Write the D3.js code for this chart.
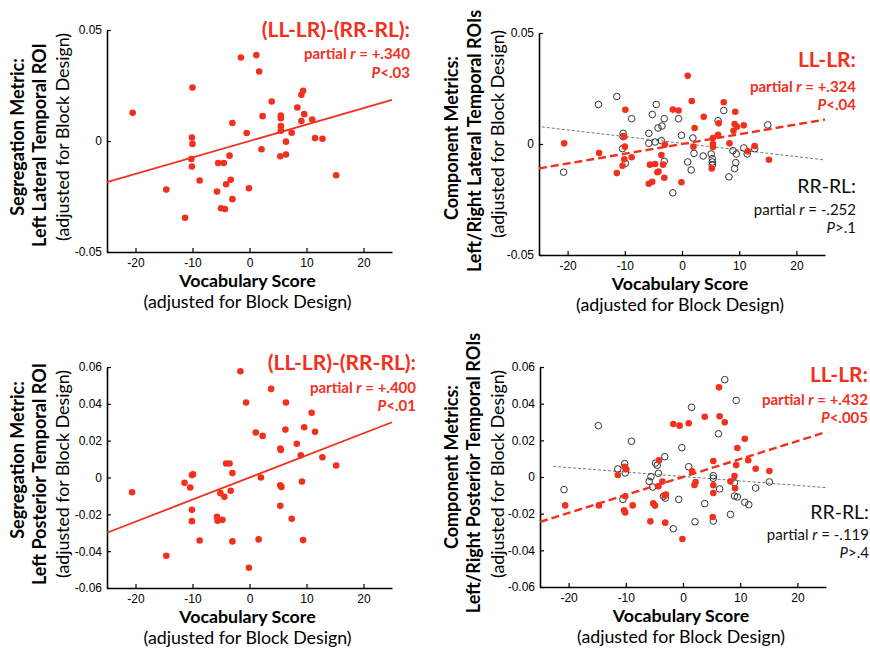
<!DOCTYPE html>
<html>
<head>
<meta charset="utf-8">
<script src="https://cdn.jsdelivr.net/npm/d3@7"></script>
<style>
  body { margin: 0; background: #fff; }
  svg { display: block; }
  .lbl { font-family: Lato, "Open Sans", sans-serif; }
  .tick text { font-family: "Liberation Sans", Arial, sans-serif; fill: #000; }
</style>
</head>
<body>
<svg id="chart" width="870" height="650"></svg>
<script>
// ---- data ----
let vocabTicks = [-20, -10, 0, 10, 20];
let latTicks = [-0.05, 0, 0.05];
let postTicks = [-0.06, -0.04, -0.02, 0, 0.02, 0.04, 0.06];
let fitX = [-25, 25];

// top left: segregation, lateral
let p1X = [-20.5,-14.6,-11.3,-10.0,-10.1,-10.0,-10.2,-10.1,-8.75,-5.7,-5.5,-4.5,-5.0,-4.3,-4.1,-3.3,-3.5,-3.0,-3.0,-0.5,-0.1,-1.5,1.2,1.7,2.3,2.1,3.9,5.5,5.5,5.5,5.5,5.4,6.4,6.4,7.4,8.4,9.1,9.4,9.6,9.1,11.0,11.5,12.8,15.2];
let p1Y = [0.0127,-0.0219,-0.0346,0.0241,0.0016,-0.0013,-0.0081,-0.0115,-0.0178,-0.0228,-0.0099,-0.0099,-0.0303,-0.0306,-0.0195,-0.0175,-0.0066,-0.0262,0.0081,0.0036,-0.0213,0.0376,0.0387,0.0313,0.0112,-0.0037,0.0178,0.0115,0.0103,0.0067,0.0046,-0.0069,-0.0003,-0.0061,0.0037,0.0151,0.0208,0.0226,0.0121,0.009,0.0097,0.0013,0.0010,-0.0154];
let p1Fit = [-0.0185, 0.0185];

// top right: components, lateral
let p2RedX = [-20.6,-14.5,-9.9,-10.1,-10.0,-10.1,-10.4,-11.4,-8.8,-5.8,-5.2,-5.6,-4.7,-4.3,-4.1,-3.6,-3.3,-3.1,-3.0,-1.6,-0.6,-0.1,1.0,1.7,2.2,2.0,3.8,5.4,5.4,5.4,5.2,6.4,6.3,7.3,8.3,9.3,9.2,9.6,9.0,10.8,11.5,12.7,15.2];
let p2RedY = [0.0003,-0.0041,0.0154,0.0033,-0.0012,-0.0069,-0.0098,-0.0131,-0.006,-0.0179,-0.017,-0.0093,-0.009,-0.0127,-0.0124,-0.005,-0.0093,-0.0152,-0.0003,0.0155,0.0151,-0.0172,0.0307,0.0194,0.0072,-0.0012,0.0123,0.0027,0.0,-0.0014,-0.011,0.0093,0.0042,0.0188,0.0003,0.0145,0.009,0.0078,0.006,0.0084,-0.0033,-0.0009,-0.0071];
let p2GrayX = [-20.7,-14.6,-11.4,-8.8,-10.3,-10.3,-10.4,-9.9,-5.8,-5.2,-4.5,-5.8,-4.7,-4.2,-3.5,-3.1,-3.6,-3.1,-0.6,-0.1,-1.6,1.0,1.6,1.9,2.1,3.7,5.1,5.3,5.3,5.3,6.3,7.3,8.2,8.9,9.2,9.4,9.5,10.8,11.4,12.7,15.0];
let p2GrayY = [-0.0127,0.0178,0.0214,0.0114,0.0048,0.0033,-0.0021,-0.0087,0.0048,0.0133,0.0178,0.0003,0.0009,0.0072,0.0081,0.0114,0.0015,-0.0078,0.0114,0.0039,-0.022,-0.0081,-0.0117,0.0027,-0.0042,-0.0054,-0.0045,-0.0066,-0.0081,-0.0095,0.0105,0.0151,-0.0148,-0.003,-0.0111,-0.0084,-0.0045,-0.0018,-0.0045,-0.0021,0.0086];
let p2RedFit = [-0.011, 0.011];
let p2GrayFitX = [-24.5, 25];
let p2GrayFit = [0.0077, -0.0072];

// bottom left: segregation, posterior
let p3X = [-20.6,-14.6,-11.4,-10.4,-10.1,-9.9,-10.1,-10.1,-8.75,-5.7,-5.6,-4.75,-5.1,-4.4,-4.1,-3.5,-3.3,-3.0,-3.0,-1.6,-0.6,-0.1,1.1,2.3,2.0,1.6,3.8,5.4,5.5,5.4,5.6,5.4,6.4,6.3,7.4,8.3,9.0,9.2,9.4,9.6,10.9,11.5,12.8,15.2];
let p3Y = [-0.008,-0.0425,-0.0029,-0.0054,0.0013,0.0018,-0.0175,-0.0237,-0.0342,-0.0213,-0.0235,-0.023,-0.0085,-0.0105,0.0076,0.0076,-0.0072,0.0024,-0.0347,0.0577,0.0407,-0.049,0.0244,0.0226,0.0,-0.0336,0.0481,0.0157,0.015,-0.0042,-0.0051,-0.0154,0.0407,0.026,-0.0224,0.0183,0.0121,-0.0022,-0.034,0.0273,0.0351,0.0248,0.011,0.0065];
let p3Fit = [-0.030, 0.030];

// bottom right: components, posterior
let p4RedX = [-20.6,-14.7,-11.4,-10.2,-9.9,-10.1,-10.3,-10.1,-8.8,-5.7,-5.2,-4.9,-4.3,-4.2,-3.6,-3.2,-3.0,-3.1,-1.7,-0.6,-0.1,1.0,1.6,2.0,2.2,3.8,5.3,5.3,5.3,5.2,6.3,6.4,7.3,8.3,9.0,9.1,9.3,9.5,10.8,11.4,12.7,15.1];
let p4RedY = [-0.0155,-0.0155,0.0011,0.0056,0.0042,-0.0105,-0.0182,-0.0193,-0.0155,-0.0242,-0.0144,-0.0156,-0.0051,0.0091,-0.0025,-0.01,-0.0096,-0.0249,0.0289,0.028,-0.0338,0.0293,0.0031,-0.0044,-0.0027,0.0329,0.0087,-0.0045,-0.0087,-0.0218,0.0489,0.0331,0.0298,-0.0024,0.0005,-0.0062,0.0065,0.0158,0.0209,0.0091,0.0045,0.0033];
let p4GrayX = [-20.8,-14.8,-9.0,-11.4,-10.2,-10.1,-10.5,-5.9,-5.6,-5.3,-4.8,-4.5,-4.3,-3.2,-3.4,-3.1,-1.7,-0.75,-0.2,1.5,1.0,2.1,3.8,5.3,5.3,5.3,6.2,6.4,7.3,9.3,8.3,9.0,9.0,9.5,10.8,11.5,12.7,15.1];
let p4GrayY = [-0.0069,0.028,0.0195,0.0044,0.0073,0.0022,-0.0122,-0.0024,0.0002,-0.0055,0.0076,0.0064,0.002,0.0111,-0.0105,-0.0115,-0.0282,-0.0122,0.016,0.038,0.0056,-0.0244,-0.0145,0.0007,-0.0007,-0.024,0.0236,-0.0065,0.0531,0.0418,-0.0204,-0.0031,-0.0104,-0.0109,-0.0138,-0.0151,-0.006,-0.0027];
let p4RedFit = [-0.0245, 0.0245];
let p4GrayFitX = [-22.7, 25];
let p4GrayFit = [0.0058, -0.0058];

const RED = "#f2301e";
let svg = d3.select("#chart");

function fmtTick(d) {
  return d === 0 ? "0" : d.toFixed(2); // plain hyphen like the figure
}

function zip(xs, ys) {
  return xs.map((v, i) => [v, ys[i]]);
}

function drawPanel(cfg) {
  let x = d3.scaleLinear().domain([-25, 25]).range([cfg.left, cfg.right]);
  let y = d3.scaleLinear().domain(cfg.yDomain).range([cfg.bottom, cfg.top]);
  let g = svg.append("g");

  // axes, ticks point inward
  let xa = g.append("g")
    .attr("transform", "translate(0," + cfg.bottom + ")")
    .call(d3.axisBottom(x).tickValues(vocabTicks).tickSizeInner(-4).tickSizeOuter(0).tickPadding(6).tickFormat(d3.format("d")));
  let ya = g.append("g")
    .attr("transform", "translate(" + cfg.left + ",0)")
    .call(d3.axisLeft(y).tickValues(cfg.yTicks).tickSizeInner(-4).tickSizeOuter(0).tickPadding(5).tickFormat(fmtTick));
  [xa, ya].forEach((a) => {
    a.select(".domain").attr("stroke", "#000").attr("stroke-width", 1.6);
    a.selectAll(".tick line").attr("stroke", "#000").attr("stroke-width", 1.2);
    a.selectAll(".tick text").attr("font-size", 12).attr("font-family", null);
  });
  xa.selectAll(".tick text").text((d) => (d < 0 ? "-" + Math.abs(d) : d));

  let line = d3.line().x((d) => x(d[0])).y((d) => y(d[1]));

  if (cfg.grayX) {
    g.append("path")
      .datum(zip(cfg.grayFitX, cfg.grayFit))
      .attr("d", line)
      .attr("fill", "none")
      .attr("stroke", "#777")
      .attr("stroke-width", 1)
      .attr("stroke-dasharray", "3,2");
    g.selectAll(".open")
      .data(zip(cfg.grayX, cfg.grayY))
      .enter()
      .append("circle")
      .attr("class", "open")
      .attr("cx", (d) => x(d[0]))
      .attr("cy", (d) => y(d[1]))
      .attr("r", 3.3)
      .attr("fill", "none")
      .attr("stroke", "#333")
      .attr("stroke-width", 1);
  }

  g.selectAll(".dot")
    .data(zip(cfg.redX, cfg.redY))
    .enter()
    .append("circle")
    .attr("class", "dot")
    .attr("cx", (d) => x(d[0]))
    .attr("cy", (d) => y(d[1]))
    .attr("r", 3.3)
    .attr("fill", RED);

  g.append("path")
    .datum(zip(fitX, cfg.redFit))
    .attr("d", line)
    .attr("fill", "none")
    .attr("stroke", RED)
    .attr("stroke-width", cfg.grayX ? 2.4 : 1.8)
    .attr("stroke-dasharray", cfg.grayX ? "8,4" : null);

  // y axis titles, rotated
  cfg.yLabels.forEach((t, i) => {
    g.append("text")
      .attr("class", "lbl")
      .attr("transform", "translate(" + cfg.yLabelX[i] + "," + cfg.yLabelY[i] + ") rotate(-90)")
      .attr("dy", "0.35em")
      .attr("text-anchor", "middle")
      .attr("font-size", i < 2 ? 18 : 17.8)
      .attr("font-weight", i < 2 ? "bold" : "normal")
      .text(t);
  });

  // x axis titles
  let cx = (cfg.left + cfg.right) / 2 - 2;
  g.append("text").attr("class", "lbl")
    .attr("x", cx).attr("y", cfg.bottom + 35)
    .attr("text-anchor", "middle").attr("font-size", 17.8).attr("font-weight", "bold")
    .text("Vocabulary Score");
  g.append("text").attr("class", "lbl")
    .attr("x", cx).attr("y", cfg.bottom + 56)
    .attr("text-anchor", "middle").attr("font-size", 17.8)
    .text("(adjusted for Block Design)");

  // stats annotations
  cfg.notes.forEach((n) => {
    let col = n.red ? RED : "#111";
    let w = n.red ? "bold" : "normal";
    g.append("text").attr("class", "lbl")
      .attr("x", n.x).attr("y", n.y)
      .attr("text-anchor", "end").attr("fill", col).attr("font-weight", w)
      .attr("font-size", n.big)
      .text(n.head);
    let t = g.append("text").attr("class", "lbl")
      .attr("x", n.x).attr("y", n.y + n.d1)
      .attr("text-anchor", "end").attr("fill", col).attr("font-weight", w)
      .attr("font-size", n.small);
    t.append("tspan").text("partial ");
    t.append("tspan").attr("font-style", "italic").text("r");
    t.append("tspan").text(" = " + n.r);
    let p = g.append("text").attr("class", "lbl")
      .attr("x", n.x).attr("y", n.y + n.d2)
      .attr("text-anchor", "end").attr("fill", col).attr("font-weight", w)
      .attr("font-size", n.small);
    p.append("tspan").attr("font-style", "italic").text("P");
    p.append("tspan").text(n.p);
  });
}

drawPanel({
  left: 107, right: 392, top: 30, bottom: 252,
  yDomain: [-0.05, 0.05], yTicks: latTicks,
  redX: p1X, redY: p1Y, redFit: p1Fit,
  yLabels: ["Segregation Metric:", "Left Lateral Temporal ROI", "(adjusted for Block Design)"],
  yLabelX: [18, 40, 63], yLabelY: [137, 145, 137],
  notes: [{ x: 410, y: 37, head: "(LL-LR)-(RR-RL):", r: "+.340", p: "<.03", red: true, big: 21, small: 15, d1: 22, d2: 41 }],
});

drawPanel({
  left: 539, right: 825, top: 33, bottom: 255,
  yDomain: [-0.05, 0.05], yTicks: latTicks,
  redX: p2RedX, redY: p2RedY, redFit: p2RedFit,
  grayX: p2GrayX, grayY: p2GrayY, grayFitX: p2GrayFitX, grayFit: p2GrayFit,
  yLabels: ["Component Metrics:", "Left/Right Lateral Temporal ROIs", "(adjusted for Block Design)"],
  yLabelX: [452, 475, 498], yLabelY: [138, 141, 134],
  notes: [
    { x: 856, y: 67, head: "LL-LR:", r: "+.324", p: "<.04", red: true, big: 21, small: 15, d1: 25, d2: 43 },
    { x: 856, y: 193, head: "RR-RL:", r: "-.252", p: ">.1", red: false, big: 19.5, small: 15, d1: 22, d2: 40 },
  ],
});

drawPanel({
  left: 107, right: 392, top: 367, bottom: 588,
  yDomain: [-0.06, 0.06], yTicks: postTicks,
  redX: p3X, redY: p3Y, redFit: p3Fit,
  yLabels: ["Segregation Metric:", "Left Posterior Temporal ROI", "(adjusted for Block Design)"],
  yLabelX: [18, 40, 63], yLabelY: [460, 474, 474],
  notes: [{ x: 416, y: 370, head: "(LL-LR)-(RR-RL):", r: "+.400", p: "<.01", red: true, big: 21, small: 15, d1: 23, d2: 41 }],
});

drawPanel({
  left: 540, right: 826, top: 367, bottom: 587,
  yDomain: [-0.06, 0.06], yTicks: postTicks,
  redX: p4RedX, redY: p4RedY, redFit: p4RedFit,
  grayX: p4GrayX, grayY: p4GrayY, grayFitX: p4GrayFitX, grayFit: p4GrayFit,
  yLabels: ["Component Metrics:", "Left/Right Posterior Temporal ROIs", "(adjusted for Block Design)"],
  yLabelX: [452, 474, 498], yLabelY: [467, 473, 474],
  notes: [
    { x: 868, y: 382, head: "LL-LR:", r: "+.432", p: "<.005", red: true, big: 21, small: 15, d1: 23, d2: 41 },
    { x: 869, y: 519, head: "RR-RL:", r: "-.119", p: ">.4", red: false, big: 19.5, small: 15, d1: 21, d2: 39 },
  ],
});
</script>
</body>
</html>
